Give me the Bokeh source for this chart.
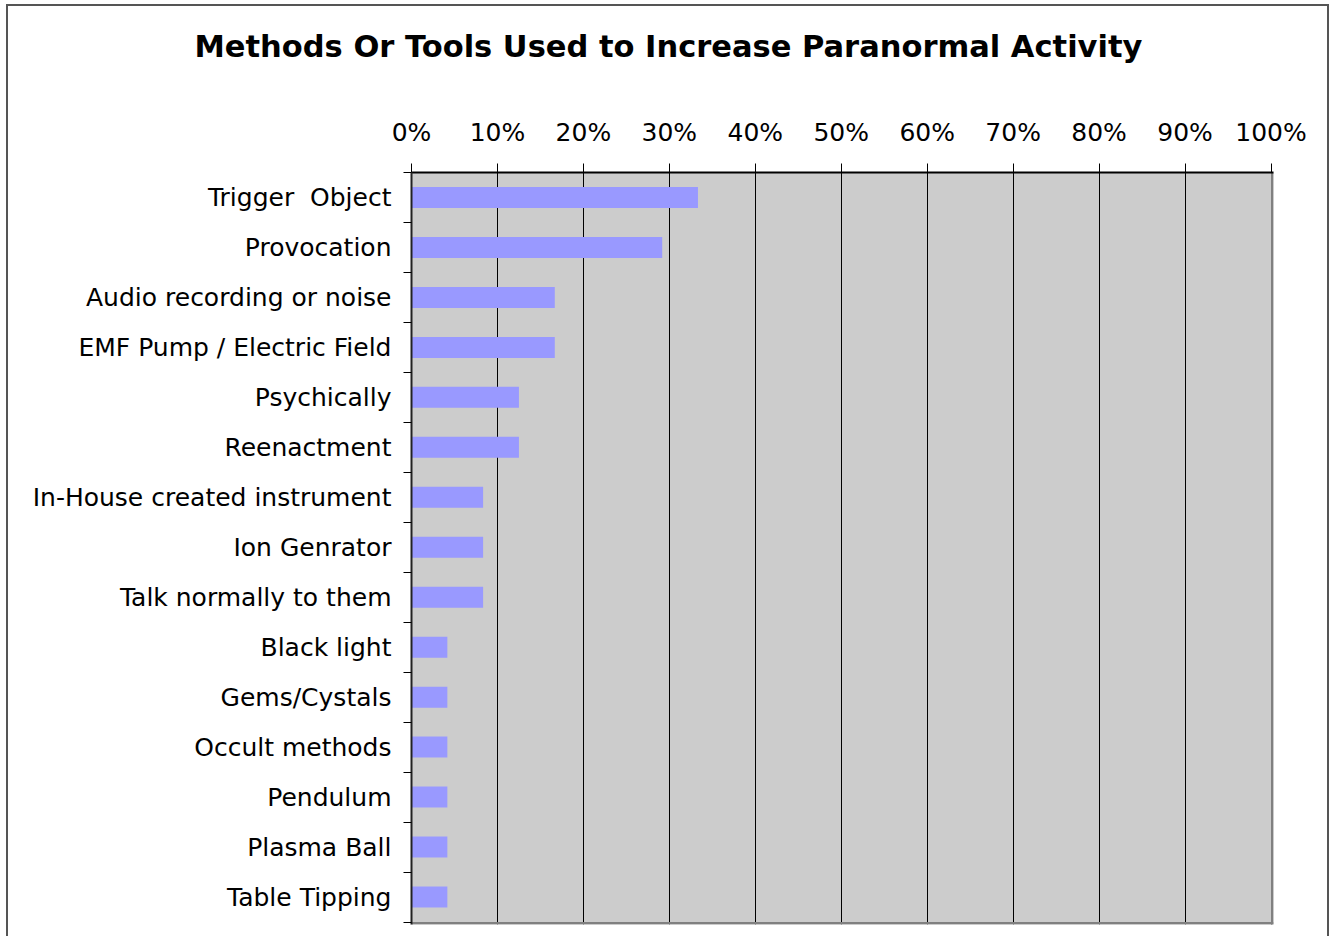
from bokeh.plotting import figure
from bokeh.models import Range1d, FixedTicker, NumeralTickFormatter, ColumnDataSource
from bokeh.embed import file_html
from bokeh.resources import INLINE

title_text = "Methods Or Tools Used to Increase Paranormal Activity"
categories = ["Trigger \u00a0Object", "Provocation", "Audio recording or noise",
              "EMF Pump / Electric Field", "Psychically", "Reenactment",
              "In-House created instrument", "Ion Genrator", "Talk normally to them",
              "Black light", "Gems/Cystals", "Occult methods", "Pendulum",
              "Plasma Ball", "Table Tipping"]
values = [0.3333, 0.2917, 0.1667, 0.1667, 0.125, 0.125, 0.0833, 0.0833, 0.0833,
          0.0417, 0.0417, 0.0417, 0.0417, 0.0417, 0.0417]
x_ticks = [0.0, 0.1, 0.2, 0.3, 0.4, 0.5, 0.6, 0.7, 0.8, 0.9, 1.0]

n = len(categories)
centers = [i + 0.5 for i in range(n)]
bounds = [float(i) for i in range(n + 1)]

FONT = "DejaVu Sans"

x_end = 1 + 2.5 / 860
y_start = n + 2.5 / 50

SHIFT = 28  # canvas is shifted up by this many pixels
W, H = 1329, 936 + SHIFT
LEFT, RIGHT, TOP, BOTTOM = 411, 56, 172 + SHIFT, 12

p = figure(width=W, height=H, output_backend="svg", toolbar_location=None,
           x_axis_location="above",
           x_range=Range1d(0, x_end), y_range=Range1d(y_start, 0),
           min_border_left=LEFT, min_border_right=RIGHT, min_border_top=TOP,
           min_border_bottom=BOTTOM)

p.background_fill_color = "#cccccc"
p.border_fill_color = None
p.outline_line_color = None
p.styles = {
    "margin-top": f"-{SHIFT}px",
    "box-shadow": f"inset 6px {4 + SHIFT}px 0 0 white, inset 8px {6 + SHIFT}px 0 0 #555555, inset -2px 0 0 0 #555555",
}

# title
p.title.text = title_text
p.title.text_font = FONT
p.title.text_font_size = "30.5px"
p.title.text_font_style = "bold"
p.title.text_color = "black"
p.title.align = "left"
p.title.offset = -217
p.title.standoff = 102

src = ColumnDataSource(dict(y=centers, right=values, name=categories))
p.hbar(y="y", left=0, right="right", height=0.42, source=src,
       fill_color="#9999ff", line_color=None)

# shadows right & bottom
p.quad(left=[1.0], right=[x_end], bottom=[y_start], top=[0], fill_color="#808080", line_color=None)
p.quad(left=[0], right=[x_end], bottom=[y_start], top=[float(n)], fill_color="#808080", line_color=None)

# x axis (top)
xa = p.xaxis[0]
xa.ticker = FixedTicker(ticks=x_ticks)
xa.formatter = NumeralTickFormatter(format="0%")
xa.major_tick_in = 0
xa.major_tick_out = 9
xa.minor_tick_line_color = None
xa.major_tick_line_color = "black"
xa.axis_line_color = "black"
xa.axis_line_width = 2
xa.major_label_text_font = FONT
xa.major_label_text_font_size = "25px"
xa.major_label_text_color = "black"
xa.major_label_standoff = 17

# y axis (left)
ya = p.yaxis[0]
ya.ticker = FixedTicker(ticks=centers, minor_ticks=bounds)
ya.major_label_overrides = {c: name for c, name in zip(centers, categories)}
ya.major_tick_line_color = None
ya.major_tick_in = 0
ya.major_tick_out = 8
ya.minor_tick_in = 0
ya.minor_tick_out = 8
ya.minor_tick_line_color = "black"
ya.axis_line_color = "#222222"
ya.axis_line_width = 2
ya.major_label_text_font = FONT
ya.major_label_text_font_size = "25px"
ya.major_label_text_color = "black"
ya.major_label_standoff = 12

p.xgrid.ticker = FixedTicker(ticks=x_ticks)
p.xgrid.grid_line_color = "black"
p.xgrid.grid_line_width = 1
p.ygrid.grid_line_color = None

open("out.html", "w").write(file_html(p, INLINE))
